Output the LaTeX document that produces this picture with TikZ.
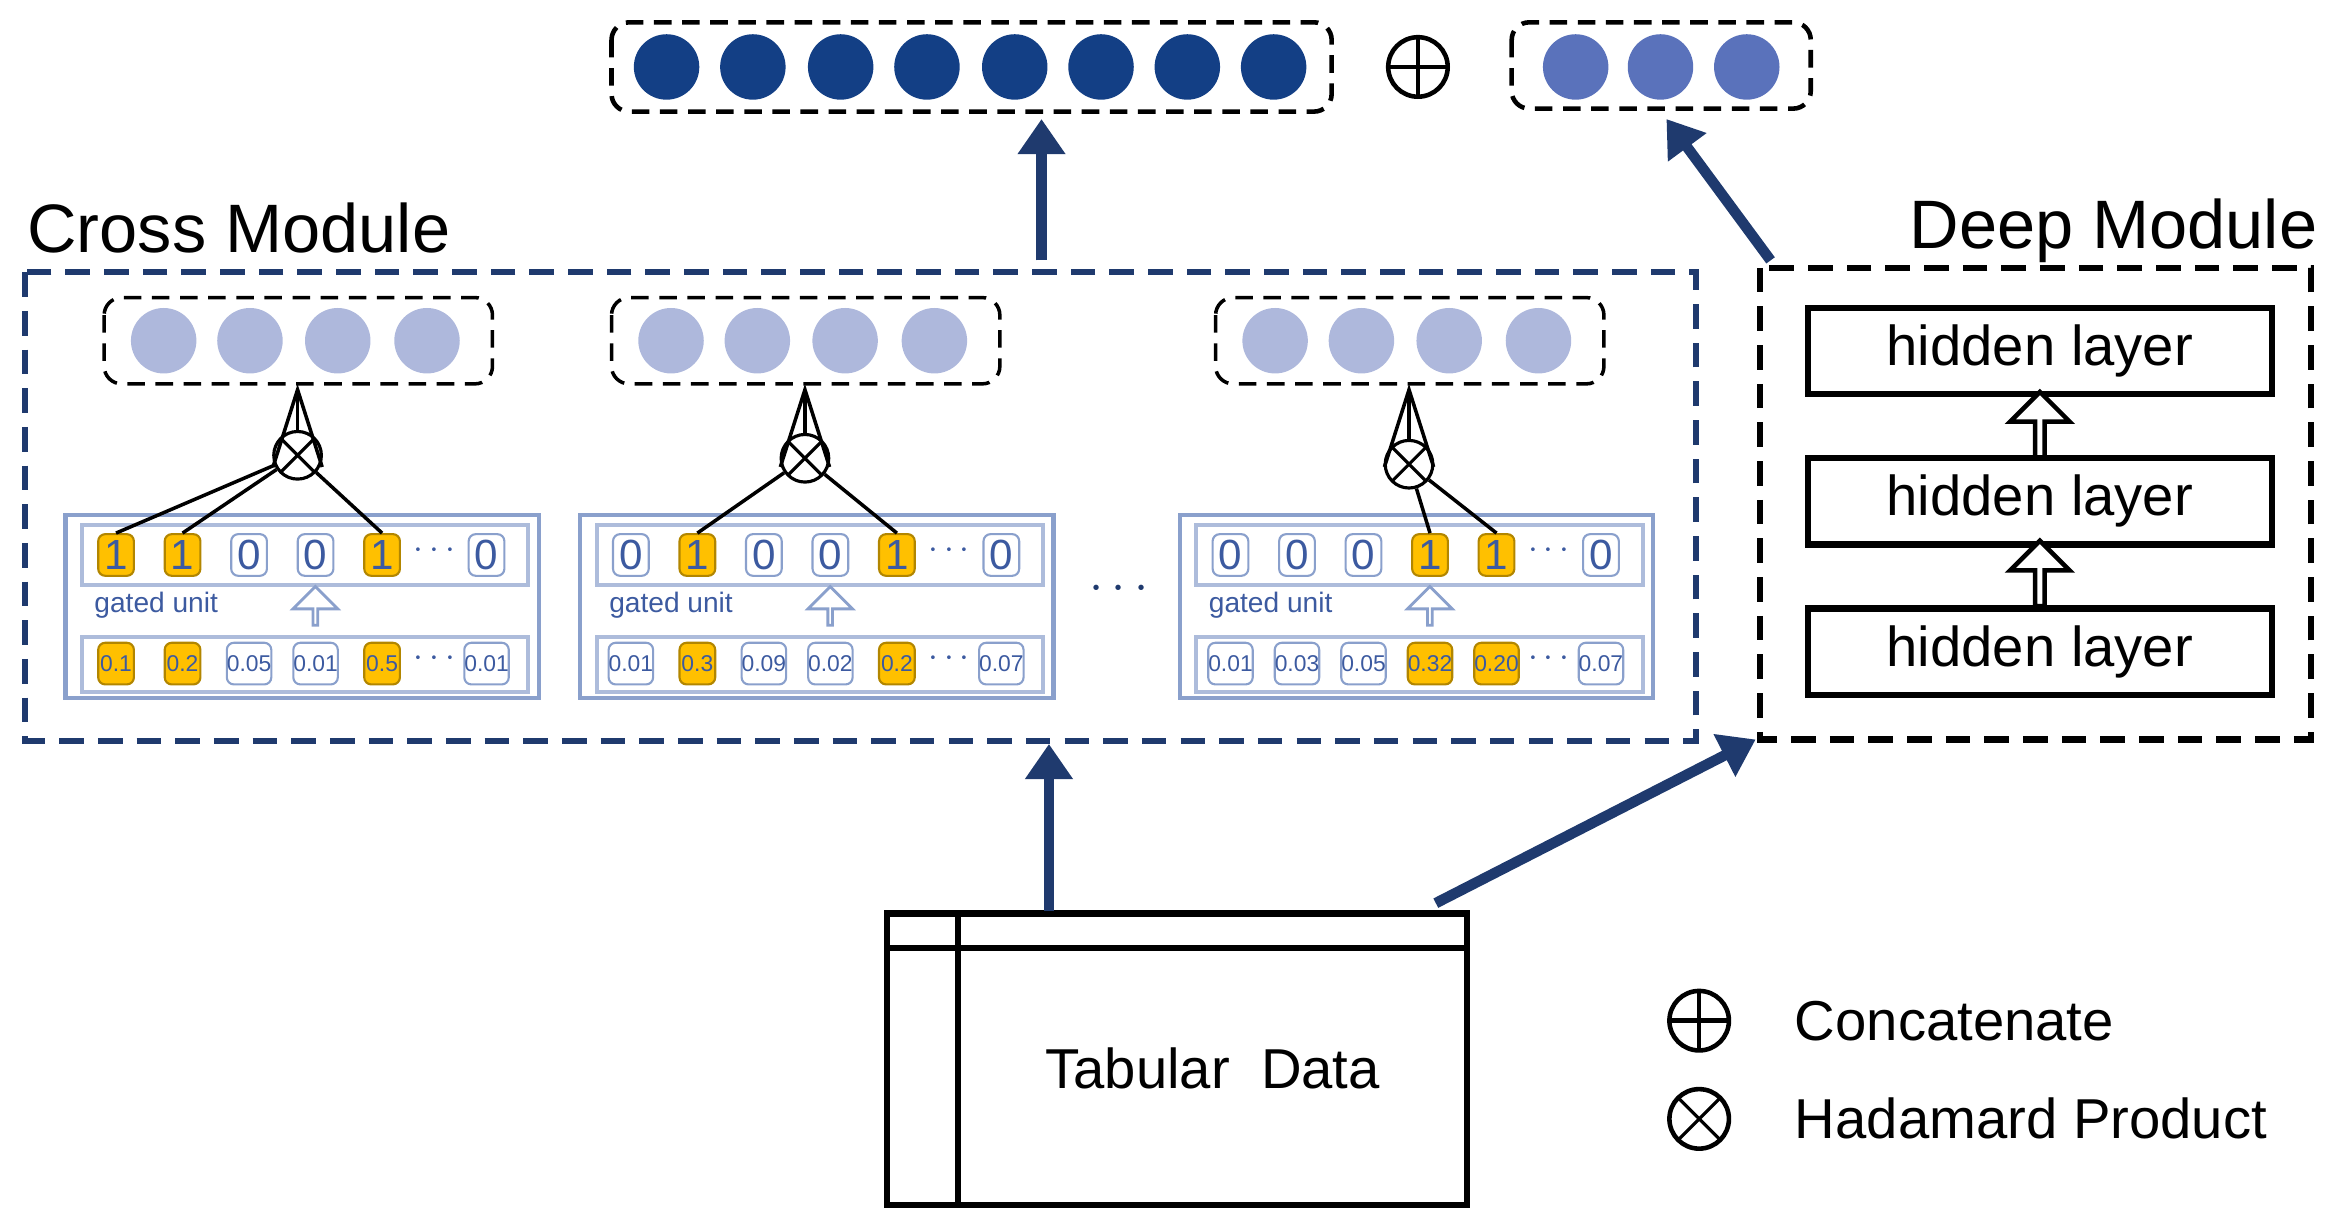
\documentclass[tikz,border=0pt]{standalone}
\usepackage{fontspec}
\setmainfont{Liberation Sans}
\usetikzlibrary{arrows.meta,shapes.arrows}
\definecolor{navy}{HTML}{1F3A6E}
\definecolor{dkc}{HTML}{133F85}
\definecolor{mdc}{HTML}{5A72BB}
\definecolor{ltc}{HTML}{AEB8DC}
\definecolor{cellb}{HTML}{8AA0CC}
\definecolor{celltxt}{HTML}{3C5AA0}
\definecolor{gold}{HTML}{FFC000}
\tikzset{
 circ/.style={circle,minimum size=44*0.01488cm,inner sep=0pt,draw=none},
 dashbox/.style={draw=black,dashed,line width=1.3pt,rounded corners=5pt,dash pattern=on 5pt off 3pt},
 bigarrow/.style={navy,line width=3pt,-{Triangle[length=10pt,width=13pt]}},
 cell/.style={draw=cellb,rounded corners=2pt,minimum width=24*0.01488cm,minimum height=28*0.01488cm,inner sep=0pt,line width=0.6pt,text=celltxt},
 on/.style={fill=gold,draw=gold!70!black},
 otimes/.style={circle,draw=black,line width=0.9pt,minimum size=32*0.01488cm,inner sep=0pt,path picture={\draw[line width=0.9pt] (path picture bounding box.north west)--(path picture bounding box.south east) (path picture bounding box.north east)--(path picture bounding box.south west);}},
 oplus/.style={circle,draw=black,line width=1.3pt,minimum size=40*0.01488cm,inner sep=0pt,path picture={\draw[line width=1.3pt] (path picture bounding box.north)--(path picture bounding box.south) (path picture bounding box.east)--(path picture bounding box.west);}},
 hidden/.style={draw=black,line width=1.8pt,minimum width=312*0.01488cm,minimum height=58*0.01488cm,font=\fontsize{16}{19}\selectfont},
 hol/.style={single arrow,draw=black,line width=1.3pt,fill=white,shape border rotate=90,minimum height=44*0.01488cm,minimum width=40*0.01488cm,single arrow head extend=0.12cm,inner sep=0pt},
 gholl/.style={single arrow,draw=cellb,line width=0.8pt,fill=white,shape border rotate=90,minimum height=26*0.01488cm,minimum width=30*0.01488cm,single arrow head extend=0.12cm,inner sep=0pt},
 lbl/.style={font=\fontsize{19.5}{23}\selectfont,inner sep=0pt}
}
\begin{document}
\begin{tikzpicture}[x=0.01488cm,y=-0.01488cm]
\useasboundingbox (0,0) rectangle (1568,823);
% top vectors
\draw[dashbox] (411,15) rectangle (895,75);
\foreach \x [count=\i] in {448,506,565,623,682,740,798,856} \node[circ,fill=dkc] (d\i) at (\x,45) {};
\node[oplus] (cat) at (953,45) {};
\draw[dashbox] (1016,15) rectangle (1217,73);
\foreach \x [count=\i] in {1059,1116,1174} \node[circ,fill=mdc] (m\i) at (\x,45) {};
\coordinate (topL) at (700,80);
\coordinate (topR) at (1120,80);
% modules
\node[lbl,anchor=west] (cmlab) at (18,153) {Cross Module};
\node[lbl,anchor=east] (dmlab) at (1558,155) {Deep Module};
\draw[navy,line width=1.8pt,dash pattern=on 7pt off 4pt] (17,183) rectangle (1140,498);
\draw[black,line width=1.8pt,dash pattern=on 7pt off 4pt] (1183,180) rectangle (1553,497);
\coordinate (cmT) at (700,175);
\coordinate (cmB) at (705,500);
\coordinate (dmT) at (1190,175);
\coordinate (dmB) at (1180,497);
% hidden
\node[hidden] (h1) at (1371,236) {hidden layer};
\node[hidden] (h2) at (1371,337) {hidden layer};
\node[hidden] (h3) at (1371,438) {hidden layer};
\node[hol] (ha1) at (1371,287) {};
\node[hol] (ha2) at (1371,387) {};
% sub-blocks
\foreach \bx/\cx/\ox/\oy/\ca/\cb/\cc/\lab/\vals/\gates/\lastv in {
  44/200/200/306/1/2/5/A/{0.1,0.2,0.05,0.01,0.5}/{1,1,0,0,1}/0.01,
  390/541/541/308/2/5/0/B/{0.01,0.3,0.09,0.02,0.2}/{0,1,0,0,1}/0.07,
  793/947/947/312/4/5/0/C/{0.01,0.03,0.05,0.32,0.20}/{0,0,0,1,1}/0.07}{
  \begin{scope}[shift={(\bx,0)}]
  \draw[cellb,line width=1.2pt] (0,346) rectangle (318,469);
  \draw[cellb!70,line width=1.2pt] (11,353) rectangle (311,393);
  \draw[cellb!70,line width=1.2pt] (11,428) rectangle (311,465);
  \node[font=\fontsize{8}{9}\selectfont,text=celltxt] (gu\lab) at (61,407) {gated unit};
  \node[gholl] (ga\lab) at (168,408) {};
  \foreach \g [count=\i] in \gates {
    \pgfmathsetmacro{\xx}{34+44.7*(\i-1)}
    \ifnum\g=1 \node[cell,on,font=\fontsize{12}{12}\selectfont] (t\lab\i) at (\xx,373) {1};
    \else \node[cell,font=\fontsize{12}{12}\selectfont] (t\lab\i) at (\xx,373) {0}; \fi }
  \foreach \v [count=\i] in \vals {
    \pgfmathsetmacro{\xx}{34+44.7*(\i-1)}
    \ifnum\i=\ca \node[cell,on,font=\fontsize{6.5}{7}\selectfont] (b\lab\i) at (\xx,446) {\v};
    \else\ifnum\i=\cb \node[cell,on,font=\fontsize{6.5}{7}\selectfont] (b\lab\i) at (\xx,446) {\v};
    \else\ifnum\i=\cc \node[cell,on,font=\fontsize{6.5}{7}\selectfont] (b\lab\i) at (\xx,446) {\v};
    \else \node[cell,font=\fontsize{6.5}{7}\selectfont] (b\lab\i) at (\xx,446) {\v}; \fi\fi\fi }
  \node[text=celltxt,font=\fontsize{10}{10}\selectfont] (td\lab) at (248,370) {$\cdots$};
  \node[text=celltxt,font=\fontsize{10}{10}\selectfont] (bd\lab) at (248,443) {$\cdots$};
  \node[cell,font=\fontsize{12}{12}\selectfont] (t\lab6) at (283,373) {0};
  \node[cell,font=\fontsize{6.5}{7}\selectfont] (b\lab6) at (283,446) {\lastv};
  \end{scope}
  \draw[dashbox,line width=1pt] (\cx-130,200) rectangle (\cx+131,258);
  \foreach \k [count=\i] in {-90,-32,27,87} \node[circ,fill=ltc] (c\lab\i) at (\cx+\k,229) {};
  \node[otimes] (ot\lab) at (\ox,\oy) {};
  \draw[line width=1pt,-{Straight Barb[length=22pt,width=14pt]}] (ot\lab) -- (\ox,258);
}
\draw[line width=1pt] (otA) -- (tA1.north);
\draw[line width=1pt] (otA) -- (tA2.north);
\draw[line width=1pt] (otA) -- (tA5.north);
\draw[line width=1pt] (otB) -- (tB2.north);
\draw[line width=1pt] (otB) -- (tB5.north);
\draw[line width=1pt] (otC) -- (tC4.north);
\draw[line width=1pt] (otC) -- (tC5.north);
\node[text=navy,font=\fontsize{14}{14}\selectfont] (mid) at (752,396) {$\cdots$};
% tabular
\draw[line width=1.8pt] (596,614) rectangle (986,810);
\draw[line width=1.8pt] (596,637) -- (986,637) (644,614) -- (644,810);
\node[font=\fontsize{16}{19}\selectfont] (tab) at (815,718) {Tabular\ \ Data};
\coordinate (tabT) at (705,612);
\coordinate (tabR) at (965,607);
% arrows
\draw[bigarrow] (cmT) -- (topL);
\draw[bigarrow] (dmT) -- (topR);
\draw[bigarrow] (tabT) -- (cmB);
\draw[bigarrow] (tabR) -- (dmB);
% legend
\node[oplus] (lg1) at (1142,686) {};
\node[font=\fontsize{16}{19}\selectfont,anchor=west] (lt1) at (1198,686) {Concatenate};
\node[otimes,minimum size=40*0.01488cm,line width=1.3pt] (lg2) at (1142,752) {};
\node[font=\fontsize{16}{19}\selectfont,anchor=west] (lt2) at (1198,752) {Hadamard Product};
\end{tikzpicture}
\end{document}
